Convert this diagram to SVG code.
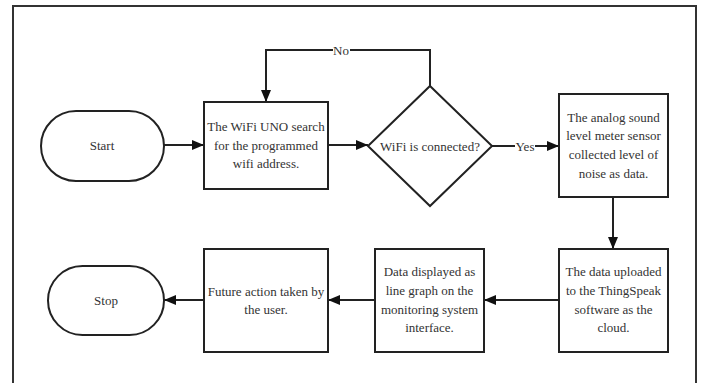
<svg xmlns="http://www.w3.org/2000/svg" width="701" height="383" viewBox="0 0 701 383">
<defs>
<style>
.frame{fill:none;stroke:#333;stroke-width:2}
.shape{fill:#fff;stroke:#222;stroke-width:2}
.conn{fill:none;stroke:#222;stroke-width:2}
.t{font-family:"Liberation Serif","Times New Roman",serif;font-size:13px;fill:#333;text-anchor:middle}
.lbl{font-family:"Liberation Serif","Times New Roman",serif;font-size:13px;fill:#333;text-anchor:middle}
</style>
<marker id="ah" viewBox="0 0 12 10" refX="12" refY="5" markerWidth="12" markerHeight="10" markerUnits="userSpaceOnUse" orient="auto">
<path d="M0,0 L12,5 L0,10 Z" fill="#111"/>
</marker>
</defs>
<rect width="701" height="383" fill="#fff"/>
<path class="frame" d="M13,390 V6 H696 V390"/>

<g id="connectors">
<line class="conn" x1="164" y1="145" x2="204" y2="145" marker-end="url(#ah)"/>
<line class="conn" x1="328" y1="145" x2="368" y2="145" marker-end="url(#ah)"/>
<path class="conn" d="M430,86 V50 H266 V102" marker-end="url(#ah)"/>
<rect x="333" y="42" width="17" height="16" fill="#fff"/>
<text class="lbl" x="341" y="54.5">No</text>
<line class="conn" x1="492" y1="146" x2="559" y2="146" marker-end="url(#ah)"/>
<rect x="515" y="138" width="20" height="16" fill="#fff"/>
<text class="lbl" x="525" y="150.5">Yes</text>
<line class="conn" x1="613" y1="197" x2="613" y2="249" marker-end="url(#ah)"/>
<line class="conn" x1="559" y1="300" x2="484" y2="300" marker-end="url(#ah)"/>
<line class="conn" x1="375" y1="300" x2="328" y2="300" marker-end="url(#ah)"/>
<line class="conn" x1="204" y1="300" x2="164" y2="300" marker-end="url(#ah)"/>
</g>

<g id="start">
<rect class="shape" x="41" y="111" width="123" height="70" rx="35" ry="35"/>
<text class="t" x="102" y="150">Start</text>
</g>

<g id="search">
<rect class="shape" x="204" y="102" width="124" height="87"/>
<text class="t" x="266" y="131">The WiFi UNO search</text>
<text class="t" x="266" y="150">for the programmed</text>
<text class="t" x="266" y="168">wifi address.</text>
</g>

<g id="decision">
<polygon class="shape" points="430,86 492,146 430,206 368,146"/>
<text class="t" x="430" y="150.5">WiFi is connected?</text>
</g>

<g id="sensor">
<rect class="shape" x="559" y="94" width="109" height="103"/>
<text class="t" x="613.5" y="121.5">The analog sound</text>
<text class="t" x="613.5" y="140">level meter sensor</text>
<text class="t" x="613.5" y="159">collected level of</text>
<text class="t" x="613.5" y="177.5">noise as data.</text>
</g>

<g id="upload">
<rect class="shape" x="559" y="249" width="109" height="103"/>
<text class="t" x="613.5" y="275.5">The data uploaded</text>
<text class="t" x="613.5" y="294.5">to the ThingSpeak</text>
<text class="t" x="613.5" y="313.5">software as the</text>
<text class="t" x="613.5" y="332">cloud.</text>
</g>

<g id="display">
<rect class="shape" x="375" y="249" width="109" height="103"/>
<text class="t" x="429.5" y="275.5">Data displayed as</text>
<text class="t" x="429.5" y="294.5">line graph on the</text>
<text class="t" x="429.5" y="313.5">monitoring system</text>
<text class="t" x="429.5" y="332">interface.</text>
</g>

<g id="action">
<rect class="shape" x="204" y="249" width="124" height="103"/>
<text class="t" x="266" y="295.5">Future action taken by</text>
<text class="t" x="266" y="313.5">the user.</text>
</g>

<g id="stop">
<rect class="shape" x="48" y="266" width="116" height="69" rx="34.5" ry="34.5"/>
<text class="t" x="106" y="304.5">Stop</text>
</g>
</svg>
